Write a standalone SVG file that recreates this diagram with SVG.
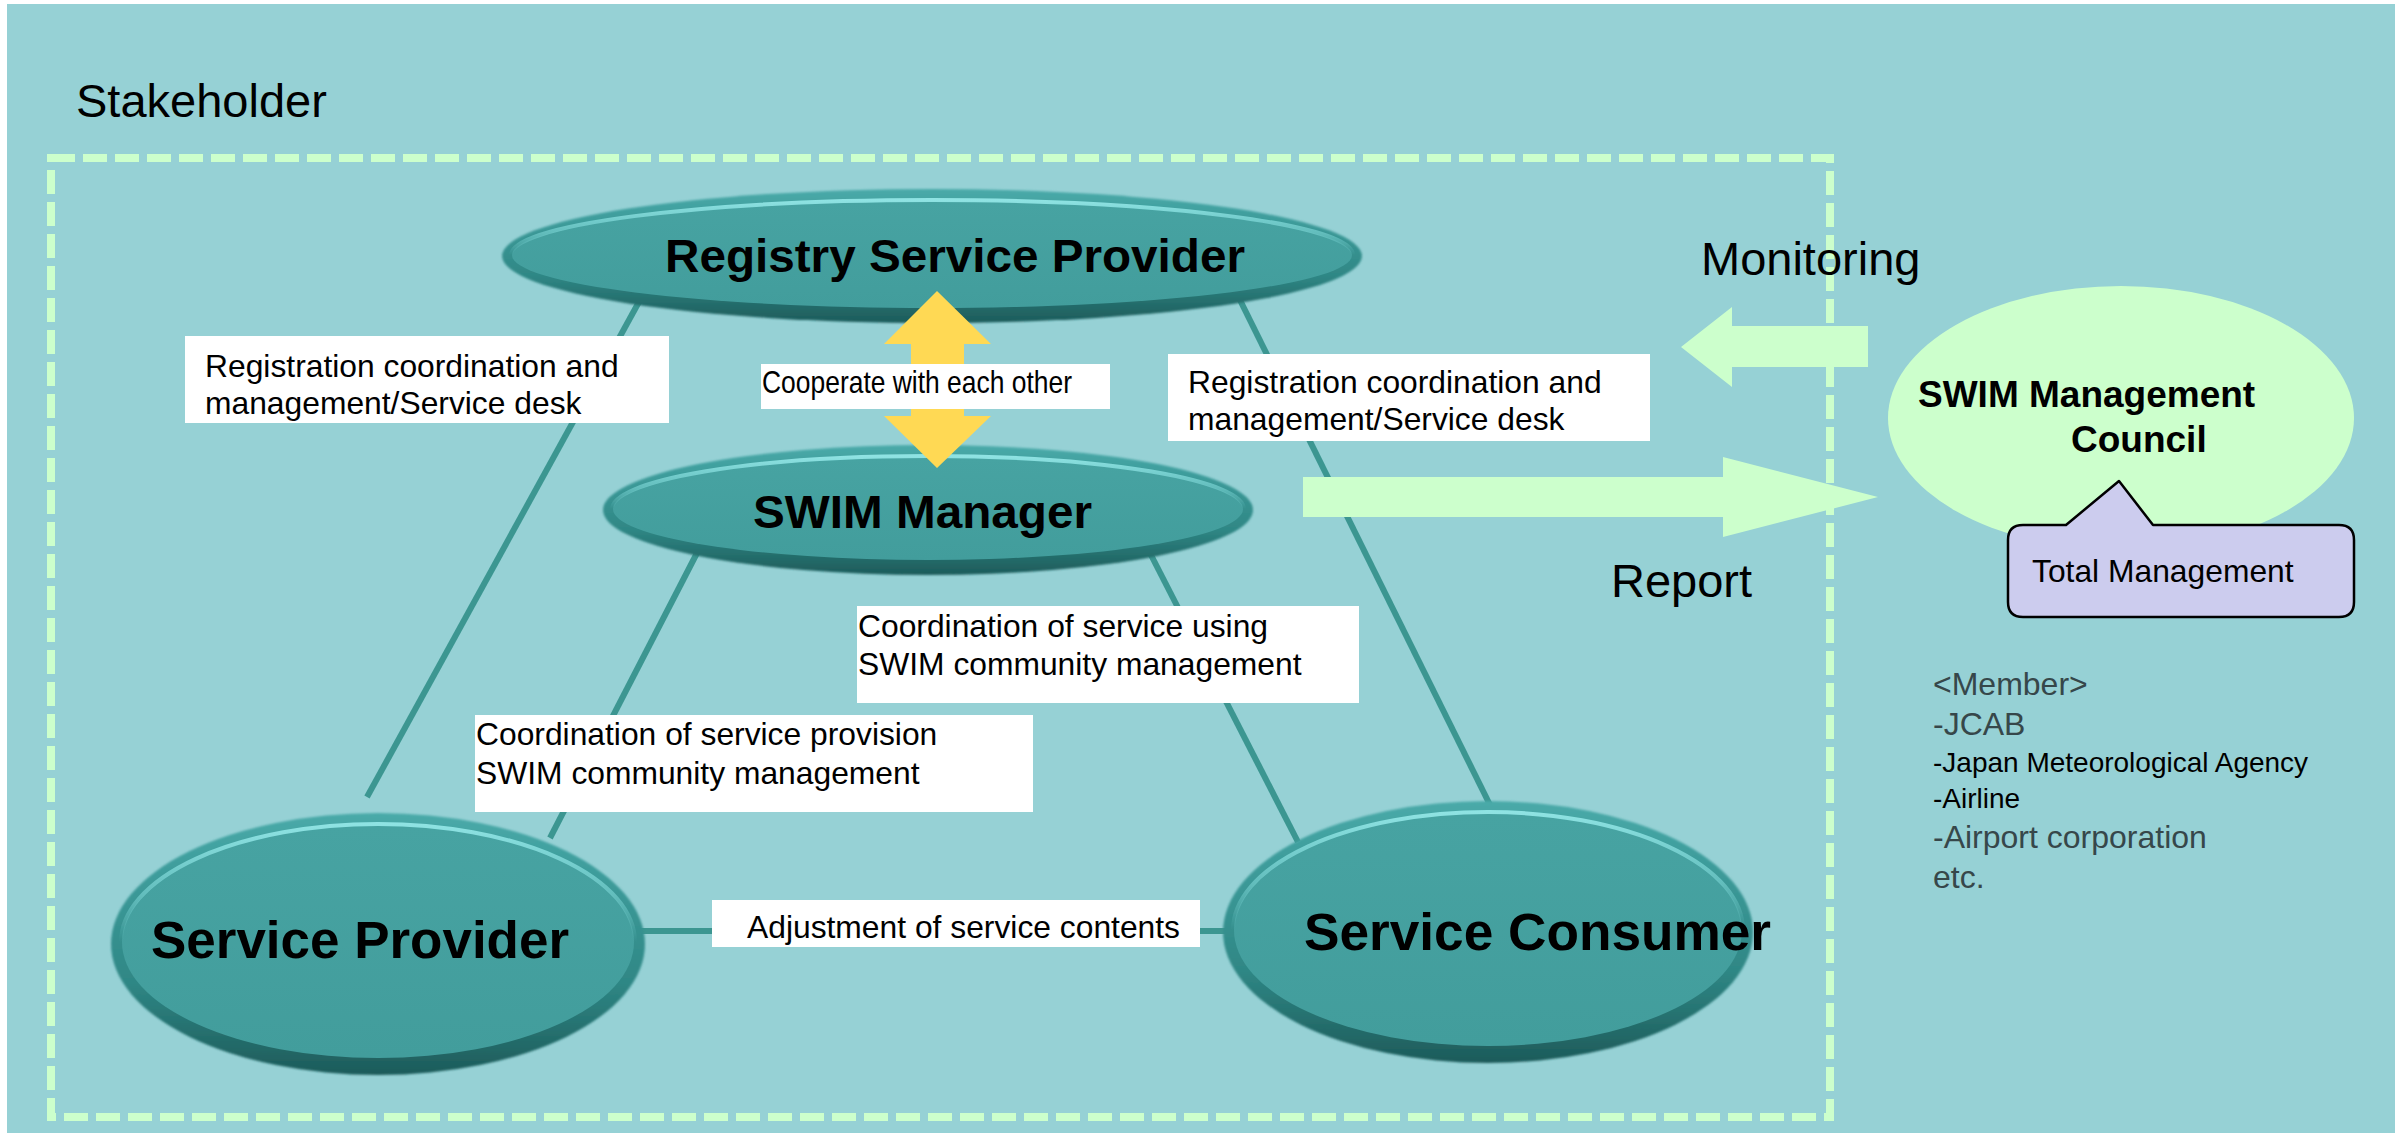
<svg xmlns="http://www.w3.org/2000/svg" width="2395" height="1133" viewBox="0 0 2395 1133">
  <style>
    text { font-family: "Liberation Sans", Arial, sans-serif; }
    .title { font-size: 47px; fill: #000; }
    .lbl { font-size: 31.8px; fill: #000; }
    .node-name { font-weight: bold; fill: #000; }
    .box { fill: #ffffff; }
    .conn { stroke: #3c9691; stroke-width: 6; fill: none; }
    .rim { fill: url(#rimGrad); }
    .face { fill: url(#faceGrad); }
    .hl { fill: none; stroke: url(#hlGrad); stroke-width: 4; }
    .green { fill: #ccffcc; }
    .member { font-size: 32px; fill: #36474a; }
    .member-b { font-size: 28px; fill: #000; }
  </style>
  <defs>
    <linearGradient id="rimGrad" x1="0" y1="0" x2="0" y2="1">
      <stop offset="0" stop-color="#4aaaa9"/>
      <stop offset="0.2" stop-color="#3f9e9d"/>
      <stop offset="0.65" stop-color="#2f8785"/>
      <stop offset="1" stop-color="#1d5b5a"/>
    </linearGradient>
    <linearGradient id="faceGrad" x1="0" y1="0" x2="0" y2="1">
      <stop offset="0" stop-color="#47a3a2"/>
      <stop offset="1" stop-color="#429d9c"/>
    </linearGradient>
    <linearGradient id="hlGrad" x1="0" y1="0" x2="0" y2="1">
      <stop offset="0" stop-color="#8fe3e3" stop-opacity="1"/>
      <stop offset="0.3" stop-color="#7dd6d6" stop-opacity="0.6"/>
      <stop offset="0.5" stop-color="#7dd6d6" stop-opacity="0"/>
    </linearGradient>
    <filter id="soft" x="-5%" y="-10%" width="110%" height="120%">
      <feGaussianBlur stdDeviation="1.2"/>
    </filter>
  </defs>

  <!-- page background -->
  <rect x="0" y="0" width="2395" height="1133" fill="#ffffff"/>
  <rect x="7" y="4" width="2388" height="1129" fill="#96d1d5"/>

  <text class="title" x="76" y="117">Stakeholder</text>

  <!-- stakeholder boundary -->
  <rect id="stakeholder-boundary" x="51" y="158" width="1779" height="959" fill="none" stroke="#ccffcc" stroke-width="8" stroke-dasharray="24 8"/>

  <!-- relationship lines -->
  <g id="connectors">
    <line class="conn" x1="640" y1="300" x2="367" y2="797"/>
    <line class="conn" x1="1240" y1="300" x2="1490" y2="805"/>
    <line class="conn" x1="697" y1="553" x2="550" y2="838"/>
    <line class="conn" x1="1150" y1="553" x2="1298" y2="842"/>
    <line class="conn" x1="620" y1="931" x2="1240" y2="931" stroke-width="10"/>
  </g>

  <!-- relationship labels -->
  <g id="label-registry-provider">
    <rect class="box" x="185" y="336" width="484" height="87"/>
    <text class="lbl" x="205" y="377">Registration coordination and</text>
    <text class="lbl" x="205" y="414">management/Service desk</text>
  </g>
  <g id="label-registry-consumer">
    <rect class="box" x="1168" y="354" width="482" height="87"/>
    <text class="lbl" x="1188" y="393">Registration coordination and</text>
    <text class="lbl" x="1188" y="430">management/Service desk</text>
  </g>
  <g id="label-manager-consumer">
    <rect class="box" x="857" y="606" width="502" height="97"/>
    <text class="lbl" x="858" y="637">Coordination of service using</text>
    <text class="lbl" x="858" y="675">SWIM community management</text>
  </g>
  <g id="label-manager-provider">
    <rect class="box" x="475" y="715" width="558" height="97"/>
    <text class="lbl" x="476" y="745">Coordination of service provision</text>
    <text class="lbl" x="476" y="784">SWIM community management</text>
  </g>
  <g id="label-provider-consumer">
    <rect class="box" x="712" y="900" width="488" height="47"/>
    <text class="lbl" x="747" y="938">Adjustment of service contents</text>
  </g>

  <!-- stakeholder nodes -->
  <g id="registry-service-provider">
    <ellipse class="rim" cx="932" cy="256" rx="430" ry="67" filter="url(#soft)"/>
    <ellipse class="face" cx="932" cy="255" rx="420" ry="53"/>
    <ellipse class="hl" cx="932" cy="255" rx="421" ry="55"/>
    <text class="node-name" x="665" y="272" font-size="46" textLength="580" lengthAdjust="spacingAndGlyphs">Registry Service Provider</text>
  </g>

  <g id="swim-manager">
    <ellipse class="rim" cx="928" cy="510" rx="325" ry="65" filter="url(#soft)"/>
    <ellipse class="face" cx="928" cy="509" rx="315" ry="51"/>
    <ellipse class="hl" cx="928" cy="509" rx="316" ry="53"/>
    <text class="node-name" x="753" y="528" font-size="46" textLength="339" lengthAdjust="spacingAndGlyphs">SWIM Manager</text>
  </g>

  <g id="service-provider">
    <ellipse class="rim" cx="378" cy="944" rx="267" ry="131" filter="url(#soft)"/>
    <ellipse class="face" cx="378" cy="942" rx="256" ry="116"/>
    <ellipse class="hl" cx="378" cy="942" rx="257" ry="118"/>
    <text class="node-name" x="151" y="958" font-size="51" textLength="418" lengthAdjust="spacingAndGlyphs">Service Provider</text>
  </g>

  <g id="service-consumer">
    <ellipse class="rim" cx="1488" cy="932" rx="265" ry="131" filter="url(#soft)"/>
    <ellipse class="face" cx="1488" cy="930" rx="254" ry="116"/>
    <ellipse class="hl" cx="1488" cy="930" rx="255" ry="118"/>
    <text class="node-name" x="1304" y="950" font-size="51" textLength="467" lengthAdjust="spacingAndGlyphs">Service Consumer</text>
  </g>

  <!-- cooperation between registry and manager -->
  <g id="cooperation">
    <path fill="#ffd954" d="M937,291 L991,344 L964,344 L964,416 L991,416 L937,468 L884,416 L911,416 L911,344 L884,344 Z"/>
    <rect class="box" x="761" y="364" width="349" height="45"/>
    <text class="lbl" x="762" y="393" font-size="26.5" textLength="310" lengthAdjust="spacingAndGlyphs">Cooperate with each other</text>
  </g>

  <!-- monitoring / report flows -->
  <g id="monitoring">
    <path class="green" d="M1681,347 L1732,307 L1732,326 L1868,326 L1868,367 L1732,367 L1732,387 Z"/>
    <text class="title" x="1701" y="275">Monitoring</text>
  </g>
  <g id="report">
    <path class="green" d="M1303,477 L1723,477 L1723,457 L1878,497 L1723,537 L1723,517 L1303,517 Z"/>
    <text class="title" x="1611" y="597">Report</text>
  </g>

  <!-- council -->
  <g id="swim-management-council">
    <ellipse class="green" cx="2121" cy="418" rx="233" ry="132"/>
    <text class="node-name" x="1918" y="407" font-size="37">SWIM Management</text>
    <text class="node-name" x="2071" y="452" font-size="37">Council</text>
  </g>

  <g id="total-management">
    <path fill="#ccccee" stroke="#000" stroke-width="2.5" stroke-linejoin="round" d="M2023,525 L2066,525 L2119,481 L2153,525 L2339,525 Q2354,525 2354,540 L2354,602 Q2354,617 2339,617 L2023,617 Q2008,617 2008,602 L2008,540 Q2008,525 2023,525 Z"/>
    <text class="lbl" x="2032" y="582">Total Management</text>
  </g>

  <g id="members">
    <text class="member" x="1933" y="695">&lt;Member&gt;</text>
    <text class="member" x="1933" y="735">-JCAB</text>
    <text class="member-b" x="1933" y="772">-Japan Meteorological Agency</text>
    <text class="member-b" x="1933" y="808">-Airline</text>
    <text class="member" x="1933" y="848">-Airport corporation</text>
    <text class="member" x="1933" y="888">etc.</text>
  </g>
</svg>
